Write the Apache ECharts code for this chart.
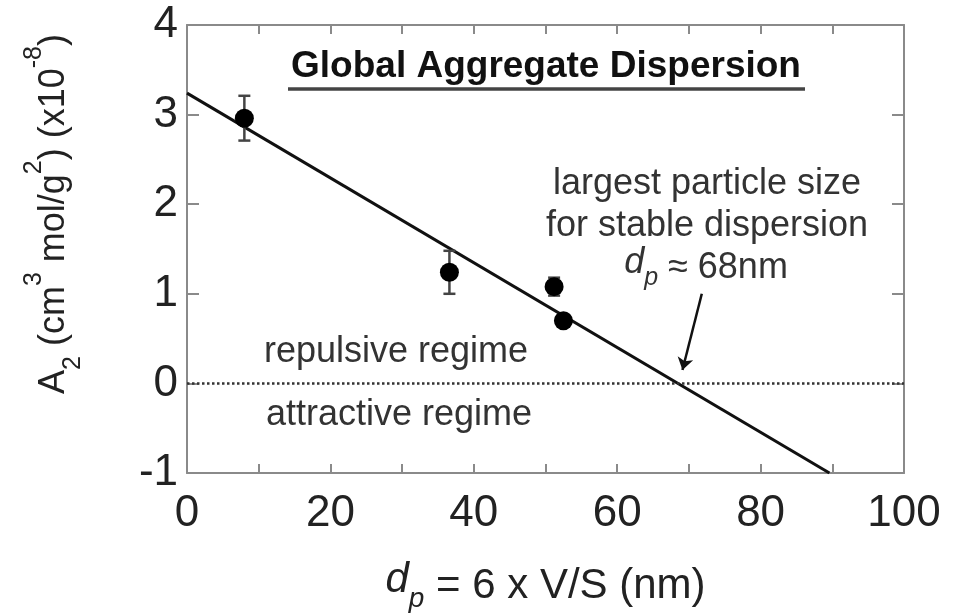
<!DOCTYPE html>
<html>
<head>
<meta charset="utf-8">
<script src="https://cdn.jsdelivr.net/npm/echarts@6/dist/echarts.min.js"></script>
<style>
  html, body { margin: 0; padding: 0; background: #fff; }
  #chart { width: 963px; height: 616px; }
</style>
</head>
<body>
<div id="chart"></div>
<script>
var FONT = '"Liberation Sans", Arial, sans-serif';

// measured points (x = d_p in nm, y = A2 x10^-8)
var pointX = [8.0, 36.6, 51.2, 52.5];
var pointY = [2.96, 1.24, 1.08, 0.70];
var pointErr = [0.25, 0.24, 0.10, 0.0];

// linear fit
var fitX = [0, 89.6];
var fitY = [3.24, -1];

// arrow to the zero crossing
var arrowX = [71.8, 69.1];
var arrowY = [1.0, 0.15];

var xTicks = [0, 20, 40, 60, 80, 100];
var yTicks = [-1, 0, 1, 2, 3, 4];

var chart = echarts.init(document.getElementById('chart'));

var frameLine = {show: true, onZero: false, lineStyle: {color: '#8a8a8a', width: 2}};
var tickStyle = {color: '#8a8a8a', width: 2};

function pairs(xs, ys){
  return xs.map(function(x, i){ return [x, ys[i]]; });
}

var option = {
  backgroundColor: '#fff',
  animation: false,
  grid: {left: 187, right: 59, top: 25, bottom: 143, outerBoundsMode: 'none', containLabel: false},
  xAxis: [
    {
      type: 'value', min: xTicks[0], max: xTicks[xTicks.length - 1], interval: 20,
      position: 'bottom',
      axisLine: frameLine,
      axisTick: {show: true, inside: true, length: 9, lineStyle: tickStyle},
      minorTick: {show: true, splitNumber: 2, length: 9, lineStyle: tickStyle},
      splitLine: {show: false},
      axisLabel: {fontFamily: FONT, fontSize: 44, color: '#222', margin: 19},
      name: '{i|d}{isub|p} = 6 x V/S (nm)',
      nameLocation: 'middle',
      nameGap: 86,
      nameTextStyle: {
        fontFamily: FONT, fontSize: 42, color: '#222',
        rich: {
          i: {fontFamily: FONT, fontSize: 42, fontStyle: 'italic', color: '#222', lineHeight: 54, verticalAlign: 'top'},
          isub: {fontFamily: FONT, fontSize: 28, fontStyle: 'italic', color: '#222', lineHeight: 34, verticalAlign: 'bottom'}
        }
      }
    },
    {
      type: 'value', min: xTicks[0], max: xTicks[xTicks.length - 1], interval: 20,
      position: 'top',
      axisLine: frameLine,
      axisTick: {show: true, inside: true, length: 9, lineStyle: tickStyle},
      minorTick: {show: true, splitNumber: 2, length: 9, lineStyle: tickStyle},
      splitLine: {show: false},
      axisLabel: {show: false}
    }
  ],
  yAxis: [
    {
      type: 'value', min: yTicks[0], max: yTicks[yTicks.length - 1], interval: 1,
      position: 'left',
      axisLine: frameLine,
      axisTick: {show: true, inside: true, length: 12, lineStyle: tickStyle},
      splitLine: {show: false},
      axisLabel: {fontFamily: FONT, fontSize: 44, color: '#222', margin: 9}
    },
    {
      type: 'value', min: yTicks[0], max: yTicks[yTicks.length - 1], interval: 1,
      position: 'right',
      axisLine: frameLine,
      axisTick: {show: true, inside: true, length: 12, lineStyle: tickStyle},
      splitLine: {show: false},
      axisLabel: {show: false}
    }
  ],
  graphic: [
    {
      type: 'text', x: 54, y: 214, rotation: Math.PI / 2,
      style: {
        text: 'A{sub|2} (cm{sup|3} mol/g{sup|2}) (x10{sup|-8})',
        fontFamily: FONT, fontSize: 36, fill: '#222',
        align: 'center', verticalAlign: 'middle',
        rich: {
          sub: {fontFamily: FONT, fontSize: 25, fill: '#222', lineHeight: 30, verticalAlign: 'bottom'},
          sup: {fontFamily: FONT, fontSize: 25, fill: '#222', lineHeight: 30, verticalAlign: 'top'}
        },
        lineHeight: 64
      }
    },
    {
      type: 'text', x: 546, y: 67,
      style: {
        text: 'Global Aggregate Dispersion',
        fontFamily: FONT, fontSize: 37, fontWeight: 'bold', fill: '#111',
        align: 'center', verticalAlign: 'middle'
      }
    },
    {
      type: 'line', shape: {x1: 288, y1: 89, x2: 805, y2: 89},
      style: {stroke: '#444', lineWidth: 3.5}
    },
    {
      type: 'text', x: 707, y: 205,
      style: {
        text: 'largest particle size\nfor stable dispersion',
        fontFamily: FONT, fontSize: 36, fill: '#333', lineHeight: 42,
        align: 'center', verticalAlign: 'middle'
      }
    },
    {
      type: 'text', x: 706, y: 268,
      style: {
        text: '{i|d}{isub|p} \u2248 68nm',
        fontFamily: FONT, fontSize: 36, fill: '#333',
        align: 'center', verticalAlign: 'middle',
        rich: {
          i: {fontFamily: FONT, fontSize: 36, fontStyle: 'italic', fill: '#333', lineHeight: 46, verticalAlign: 'top'},
          isub: {fontFamily: FONT, fontSize: 25, fontStyle: 'italic', fill: '#333', lineHeight: 30, verticalAlign: 'bottom'}
        }
      }
    },
    {
      type: 'text', x: 396, y: 352,
      style: {
        text: 'repulsive regime',
        fontFamily: FONT, fontSize: 36, fill: '#333',
        align: 'center', verticalAlign: 'middle'
      }
    },
    {
      type: 'text', x: 399, y: 415,
      style: {
        text: 'attractive regime',
        fontFamily: FONT, fontSize: 36, fill: '#333',
        align: 'center', verticalAlign: 'middle'
      }
    }
  ],
  series: [
    {
      name: 'zero',
      type: 'line',
      data: [],
      markLine: {
        silent: true,
        symbol: 'none',
        label: {show: false},
        lineStyle: {type: 'dotted', color: '#333', width: 2.5},
        data: [{yAxis: 0}]
      }
    },
    {
      name: 'fit',
      type: 'line',
      data: pairs(fitX, fitY),
      showSymbol: false,
      lineStyle: {color: '#111', width: 3},
      z: 3
    },
    {
      name: 'arrow',
      type: 'lines',
      coordinateSystem: 'cartesian2d',
      symbol: ['none', 'arrow'],
      symbolSize: 12,
      lineStyle: {color: '#111', width: 2.5, opacity: 1},
      data: [{coords: pairs(arrowX, arrowY)}],
      z: 4
    },
    {
      name: 'errors',
      type: 'custom',
      data: pointX.map(function(x, i){ return [x, pointY[i] - pointErr[i], pointY[i] + pointErr[i]]; }),
      renderItem: function(params, api){
        var lo = api.coord([api.value(0), api.value(1)]);
        var hi = api.coord([api.value(0), api.value(2)]);
        var cap = 6;
        var st = {stroke: '#444', lineWidth: 2.5};
        return {
          type: 'group',
          children: [
            {type: 'line', shape: {x1: lo[0], y1: lo[1], x2: hi[0], y2: hi[1]}, style: st},
            {type: 'line', shape: {x1: lo[0] - cap, y1: lo[1], x2: lo[0] + cap, y2: lo[1]}, style: st},
            {type: 'line', shape: {x1: hi[0] - cap, y1: hi[1], x2: hi[0] + cap, y2: hi[1]}, style: st}
          ]
        };
      },
      z: 4
    },
    {
      name: 'points',
      type: 'scatter',
      data: pairs(pointX, pointY),
      symbol: 'circle',
      symbolSize: 19,
      itemStyle: {color: '#000', opacity: 1},
      z: 5
    }
  ]
};

chart.setOption(option);
</script>
</body>
</html>
